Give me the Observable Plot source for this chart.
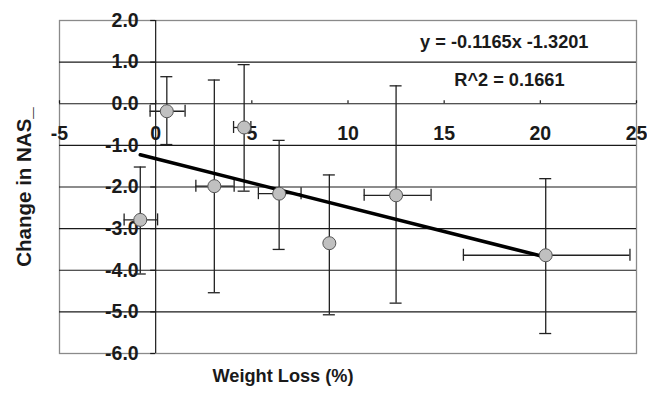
<!DOCTYPE html>
<html><head><meta charset="utf-8">
<script src="https://cdn.jsdelivr.net/npm/d3@7"></script>
<script src="https://cdn.jsdelivr.net/npm/@observablehq/plot@0.6"></script>
<style>body{margin:0;background:#fff}</style>
</head><body><div id="chart"></div>
<script>
const weightLoss = [-0.8, 0.58, 3.05, 4.6, 6.42, 9.03, 12.5, 20.28];
const nasChange = [-2.79, -0.18, -1.98, -0.57, -2.16, -3.35, -2.2, -3.64];
const xLow = [-1.64, -0.29, 2.09, 4.05, 5.34, null, 10.84, 16.0];
const xHigh = [0.1, 1.53, 4.08, 4.95, 7.56, null, 14.32, 24.66];
const yLow = [-4.09, -0.98, -4.54, -2.1, -3.5, -5.07, -4.79, -5.52];
const yHigh = [-1.52, 0.65, 0.57, 0.94, -0.88, -1.71, 0.43, -1.8];
const fitX = [-0.8, 20.3];
const fitY = [-1.227, -3.685];
const xTicks = [-5, 0, 5, 10, 15, 20, 25];
const xTickLabels = ["-5", "0", "5", "10", "15", "20", "25"];
const yTicks = [2, 1, 0, -1, -2, -3, -4, -5, -6];
const yTickLabels = ["2.0", "1.0", "0.0", "-1.0", "-2.0", "-3.0", "-4.0", "-5.0", "-6.0"];
const equationText = "y = -0.1165x -1.3201";
const r2Text = "R^2 = 0.1661";
const xTitle = "Weight Loss (%)";
const yTitle = "Change in NAS_";

const idx = d3.range(weightLoss.length);
const idxH = idx.filter(i => xLow[i] != null);
const capsY = idx.flatMap(i => [{x: weightLoss[i], y: yLow[i]}, {x: weightLoss[i], y: yHigh[i]}]);
const capsX = idxH.flatMap(i => [{x: xLow[i], y: nasChange[i]}, {x: xHigh[i], y: nasChange[i]}]);
const fit = fitX.map((x, i) => ({x, y: fitY[i]}));
const grid = yTicks.filter(d => d < 2 && d > -6);
const ink = "#1a1a1a";
const bold = {fontWeight: "bold", fill: ink};

const chart = Plot.plot({
  width: 647, height: 404,
  marginLeft: 59, marginRight: 11, marginTop: 20, marginBottom: 51,
  style: {fontFamily: "'Liberation Sans', Arial, sans-serif", background: "#fff", overflow: "visible"},
  x: {domain: [-5, 25], axis: null},
  y: {domain: [-6, 2], axis: null},
  marks: [
    Plot.frame({stroke: "#8a8a8a", strokeWidth: 1.3}),
    Plot.ruleY(grid, {y: d => d, stroke: ink, strokeWidth: 1.2}),
    Plot.ruleX([0], {x: d => d, stroke: ink, strokeWidth: 1.2}),
    Plot.ruleY(yTicks, {y: d => d, x1: () => 0, x2: () => 0, insetLeft: -5, stroke: ink, strokeWidth: 1.2}),
    Plot.ruleX(xTicks, {x: d => d, y1: () => 0, y2: () => 0, insetBottom: 3, stroke: ink, strokeWidth: 1.2}),
    Plot.text(yTicks, {x: () => 0, y: d => d, text: (d, i) => yTickLabels[i], dx: -17, textAnchor: "end", fontSize: 19.5, ...bold}),
    Plot.text(xTicks, {x: d => d, y: () => 0, text: (d, i) => xTickLabels[i], dy: 30, textAnchor: "middle", fontSize: 19.5, ...bold}),
    // error bars
    Plot.ruleX(idx, {x: i => weightLoss[i], y1: i => yLow[i], y2: i => yHigh[i], stroke: "#222", strokeWidth: 1.3}),
    Plot.ruleY(capsY, {y: "y", x1: "x", x2: "x", insetLeft: -6, insetRight: -6, stroke: "#222", strokeWidth: 1.3}),
    Plot.ruleY(idxH, {y: i => nasChange[i], x1: i => xLow[i], x2: i => xHigh[i], stroke: "#222", strokeWidth: 1.3}),
    Plot.ruleX(capsX, {x: "x", y1: "y", y2: "y", insetTop: -6, insetBottom: -6, stroke: "#222", strokeWidth: 1.3}),
    // fit line
    Plot.line(fit, {x: "x", y: "y", stroke: "#000", strokeWidth: 3.6}),
    Plot.dot(idx, {x: i => weightLoss[i], y: i => nasChange[i], r: 6.5, fill: "#c0c0c0", stroke: "#555", strokeWidth: 1}),
    // annotations
    Plot.text([equationText], {frameAnchor: "top-right", dx: -48, dy: 22, textAnchor: "end", lineAnchor: "middle", fontSize: 18.2, ...bold}),
    Plot.text([r2Text], {frameAnchor: "top-right", dx: -72, dy: 60, textAnchor: "end", lineAnchor: "middle", fontSize: 18.2, ...bold}),
    Plot.text([xTitle], {frameAnchor: "bottom", dx: -65, dy: 23, textAnchor: "middle", lineAnchor: "middle", fontSize: 18.2, ...bold}),
    Plot.text([yTitle], {frameAnchor: "left", dx: -35, dy: 0, rotate: -90, textAnchor: "middle", lineAnchor: "middle", fontSize: 20.5, ...bold})
  ]
});
document.getElementById("chart").appendChild(chart);
</script>
</body></html>
